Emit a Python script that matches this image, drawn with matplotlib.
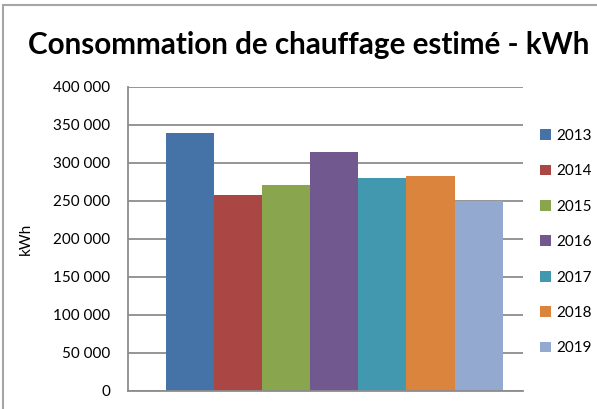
import numpy as np
import matplotlib
matplotlib.use("Agg")
import matplotlib.pyplot as plt
from matplotlib.patches import Rectangle
from matplotlib.ticker import FuncFormatter, MultipleLocator

# valeurs (kWh)
years = ["2013", "2014", "2015", "2016", "2017", "2018", "2019"]
kwh = [339500, 257500, 271000, 314500, 280000, 283000, 249500]
colors = ["#4572A7", "#AA4643", "#89A54E", "#71588F", "#4198AF", "#DB843D", "#93A9CF"]

plt.rcParams["font.family"] = ["Lato", "DejaVu Sans"]

fig = plt.figure(figsize=(5.97, 4.09), dpi=100)
# cadre du graphique (coupé à droite et en bas)
fig.patches.append(Rectangle((3 / 597, -0.2), 1.2, 1.2 - 5 / 409, transform=fig.transFigure,
                             fill=False, edgecolor="#a6a6a6", linewidth=1.5))

ax = fig.add_axes([128 / 597, 1 - 391 / 409, 395 / 597, 304 / 409])

pos = np.arange(len(years)) + 0.5
for p, v, c, y in zip(pos, kwh, colors, years):
    ax.bar(p, v, width=1.0, color=c, label=y, zorder=2)

ax.set_xlim(-0.78, 7.42)
ax.set_ylim(0, 400000)
ax.yaxis.set_major_locator(MultipleLocator(50000))
ax.yaxis.set_major_formatter(FuncFormatter(lambda v, _: f"{int(v):,}".replace(",", " ")))
ax.grid(axis="y", color="#8c8c8c", linewidth=1.3, zorder=0)
ax.set_axisbelow(True)
ax.set_xticks([])
ax.tick_params(axis="y", length=0, pad=13, labelsize=11)
for s in ("top", "right"):
    ax.spines[s].set_visible(False)
for s in ("left", "bottom"):
    ax.spines[s].set_color("#8c8c8c")
    ax.spines[s].set_linewidth(1.3)

ax.set_ylabel("kWh", fontsize=11)
ax.yaxis.set_label_coords(-(128 - 33) / 395, 0.5)

fig.text(28 / 597, 1 - 45 / 409, "Consommation de chauffage estimé - kWh",
         fontsize=21.3, fontweight="bold", va="center", ha="left")

handles, labels = ax.get_legend_handles_labels()
fig.legend(handles, labels, loc="upper left", bbox_to_anchor=(540 / 597, 1 - 129 / 409),
           frameon=False, fontsize=11, handlelength=0.7, handleheight=0.7,
           handletextpad=0.35, labelspacing=1.4, borderpad=0, borderaxespad=0)

fig.savefig("out.png", dpi=100)
